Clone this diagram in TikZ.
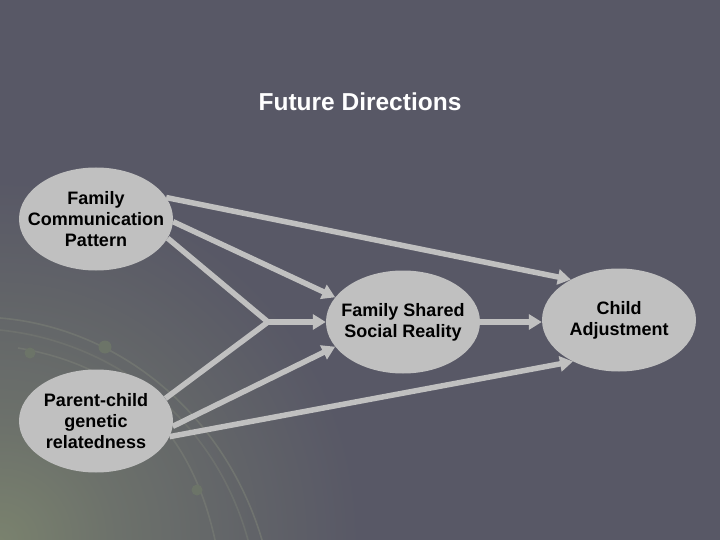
\documentclass[tikz,border=0pt]{standalone}
\usepackage{fontspec}
\setmainfont{Liberation Sans}
\usetikzlibrary{shapes.geometric,arrows.meta}
\definecolor{bgc}{RGB}{88,88,102}
\definecolor{nodec}{RGB}{192,192,192}
\definecolor{glowc}{RGB}{122,130,110}
\definecolor{arcc}{RGB}{116,120,114}
\definecolor{dotc}{RGB}{108,116,104}
\pgfdeclareradialshading{glow}{\pgfpoint{0bp}{0bp}}{color(0bp)=(glowc); color(8bp)=(glowc!60!bgc); color(25bp)=(bgc); color(50bp)=(bgc)}
\begin{document}
\begin{tikzpicture}[x=1pt,y=-1pt,
  var/.style={ellipse, fill=nodec, minimum width=154pt, minimum height=103pt, inner sep=0pt},
  vtext/.style={align=center, font=\fontsize{18}{21}\selectfont\bfseries, text=black, inner sep=0pt},
  conn/.style={draw=nodec, line width=5.5pt, -{Triangle[length=13pt,width=15pt]}},
  plainline/.style={draw=nodec, line width=5.5pt, line join=miter},
  deco/.style={draw=arcc, line width=1.6pt, opacity=0.8}]
\useasboundingbox (0,0) rectangle (720,540);
\fill[bgc] (0,0) rectangle (720,540);
\begin{scope}
  \clip (0,0) rectangle (720,540);
  \shade[shading=glow] (0,540) circle (360pt);
  \draw[deco] (0,318) .. controls (120,328) and (225,415) .. (262,540);
  \draw[deco, opacity=0.6] (0,330) .. controls (115,342) and (215,420) .. (248,540);
  \draw[deco] (18,348) .. controls (120,365) and (190,425) .. (215,540);
  \fill[dotc] (105,347) circle (6.5pt);
  \fill[dotc] (30,353) circle (5.5pt);
  \fill[dotc] (197,490) circle (5.5pt);
\end{scope}

\node[text=white, font=\fontsize{24.5}{28}\selectfont\bfseries, anchor=base, inner sep=0pt] (title) at (360,111) {Future Directions};

\node[var] (fcp) at (96,219) {};
\node[var] (pcg) at (96,421) {};
\node[var] (fssr) at (403,322) {};
\node[var] (ca) at (619,320) {};
\node[vtext] (fcpt) at (fcp) {Family\\Communication\\Pattern};
\node[vtext] (pcgt) at (pcg) {Parent-child\\genetic\\relatedness};
\node[vtext] (fssrt) at (fssr) {Family Shared\\Social Reality};
\node[vtext] (cat) at (ca) {Child\\Adjustment};
\coordinate (j) at (268,322);

\draw[conn] (fcp.17) -- (ca.140);
\draw[conn] (fcp.-2) -- (fssr.160);
\draw[plainline] (fcp.-15) -- (j) -- (pcg.18);
\draw[conn] (j) -- (fssr.west);
\draw[conn] (pcg.-4) -- (fssr.200);
\draw[conn] (pcg.-12) -- (ca.222);
\draw[conn] (fssr.east) -- (fssr.east -| ca.west);
\end{tikzpicture}
\end{document}
